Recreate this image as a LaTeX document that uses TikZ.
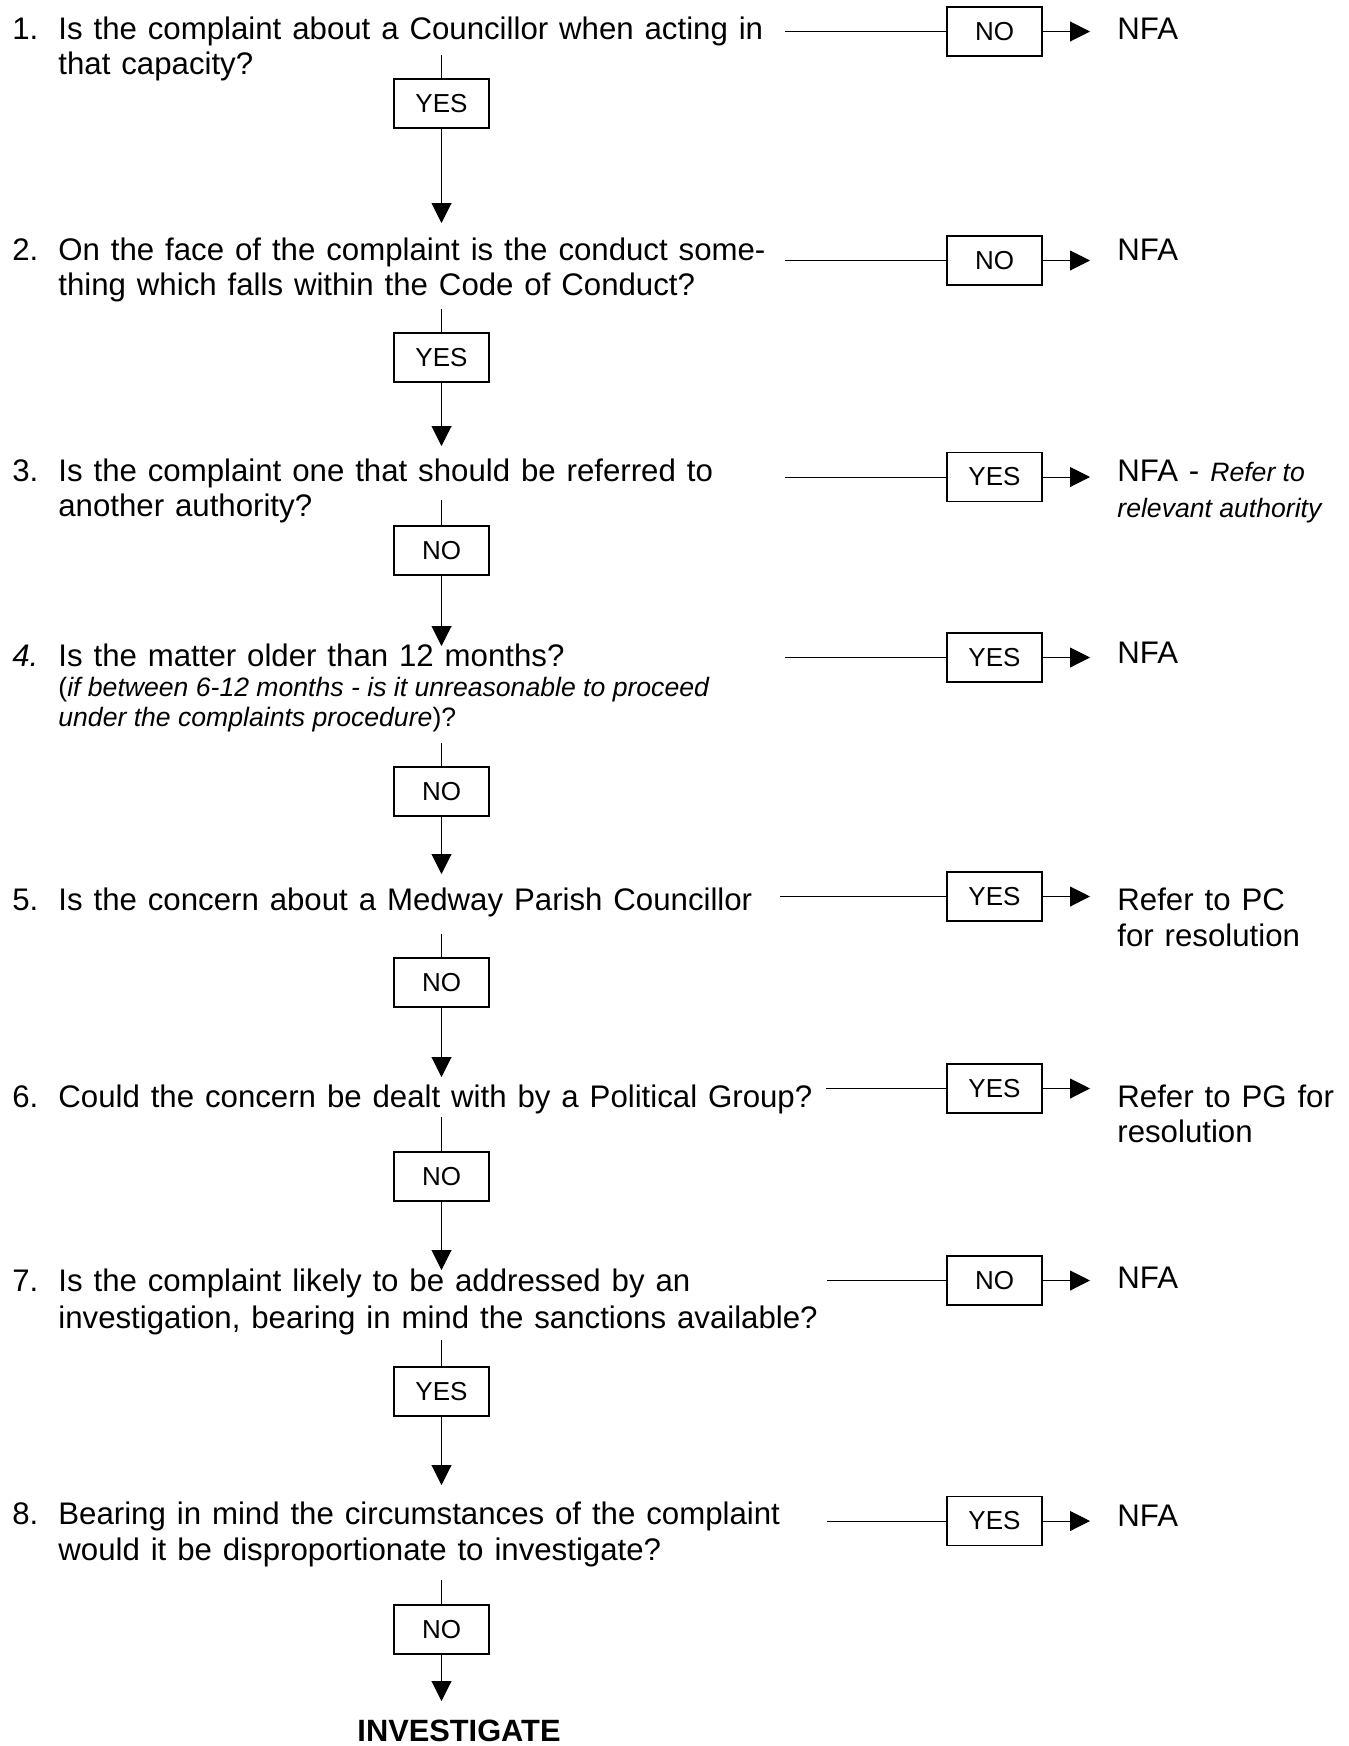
\documentclass[tikz,border=0pt]{standalone}
\usepackage{fontspec}
\setmainfont{Liberation Sans}
\usetikzlibrary{arrows.meta}
\newcommand\myqfont{\fontsize{15.6}{17.5}\selectfont\spaceskip 0.35em plus 0.1em\relax}
\newcommand\myifont{\fontsize{13.3}{15}\selectfont\itshape\spaceskip 0pt\relax}
\begin{document}
\begin{tikzpicture}[x=0.5pt,y=-0.5pt,
  qtext/.style={anchor=base west, inner sep=0, font=\myqfont},
  itext/.style={anchor=base west, inner sep=0, font=\fontsize{13.3}{15}\selectfont},
  ansbox/.style={draw, line width=0.6pt, minimum width=47.5pt, minimum height=24.5pt, inner sep=0, font=\fontsize{13}{15}\selectfont},
  conn/.style={line width=0.5pt},
  arr/.style={line width=0.5pt, -{Triangle[length=10pt,width=10pt]}},
  endtext/.style={anchor=base, inner sep=0, font=\fontsize{15.4}{18}\selectfont\bfseries}]
\useasboundingbox (0,0) rectangle (1349,1746);

% ---------- Question 1
\node[qtext] (n1) at (12,39) {1.};
\node[qtext] (q1a) at (58,39) {Is the complaint about a Councillor when acting in};
\node[qtext] (q1b) at (58,74) {that capacity?};
\coordinate (h1) at (785,31.5);
\node[ansbox] (r1) at (994.5,31.5) {NO};
\coordinate (t1) at (1090,31.5);
\node[qtext] (o1) at (1117,39) {NFA};
\coordinate (v1) at (441.5,55);
\node[ansbox] (d1) at (441.5,103.5) {YES};
\coordinate (a1) at (441.5,223);

% ---------- Question 2
\node[qtext] (n2) at (12,260) {2.};
\node[qtext] (q2a) at (58,260) {On the face of the complaint is the conduct some-};
\node[qtext] (q2b) at (58,295) {thing which falls within the Code of Conduct?};
\coordinate (h2) at (785,260.5);
\node[ansbox] (r2) at (994.5,260.5) {NO};
\coordinate (t2) at (1090,260.5);
\node[qtext] (o2) at (1117,260) {NFA};
\coordinate (v2) at (441.5,309);
\node[ansbox] (d2) at (441.5,357.5) {YES};
\coordinate (a2) at (441.5,446);

% ---------- Question 3
\node[qtext] (n3) at (12,481) {3.};
\node[qtext] (q3a) at (58,481) {Is the complaint one that should be referred to};
\node[qtext] (q3b) at (58,516) {another authority?};
\coordinate (h3) at (785,477);
\node[ansbox] (r3) at (994.5,477) {YES};
\coordinate (t3) at (1090,477);
\node[qtext] (o3a) at (1117,481) {NFA - {\myifont Refer to}};
\node[itext] (o3b) at (1117,517) {\itshape relevant authority};
\coordinate (v3) at (441.5,500);
\node[ansbox] (d3) at (441.5,550.5) {NO};
\coordinate (a3) at (441.5,646);

% ---------- Question 4
\node[qtext] (n4) at (12,666) {\itshape 4.};
\node[qtext] (q4a) at (58,666) {Is the matter older than 12 months?};
\node[itext] (q4b) at (58,696) {(\textit{if between 6-12 months - is it unreasonable to proceed}};
\node[itext] (q4c) at (58,726) {\textit{under the complaints procedure})?};
\coordinate (h4) at (785,657.5);
\node[ansbox] (r4) at (994.5,657.5) {YES};
\coordinate (t4) at (1090,657.5);
\node[qtext] (o4) at (1117,663) {NFA};
\coordinate (v4) at (441.5,743);
\node[ansbox] (d4) at (441.5,791.5) {NO};
\coordinate (a4) at (441.5,874);

% ---------- Question 5
\node[qtext] (n5) at (12,910) {5.};
\node[qtext] (q5a) at (58,910) {Is the concern about a Medway Parish Councillor};
\coordinate (h5) at (780,896.5);
\node[ansbox] (r5) at (994.5,896.5) {YES};
\coordinate (t5) at (1090,896.5);
\node[qtext] (o5a) at (1117,910) {Refer to PC};
\node[qtext] (o5b) at (1117,946) {for resolution};
\coordinate (v5) at (441.5,934);
\node[ansbox] (d5) at (441.5,982.5) {NO};
\coordinate (a5) at (441.5,1077);

% ---------- Question 6
\node[qtext] (n6) at (12,1107) {6.};
\node[qtext] (q6a) at (58,1107) {Could the concern be dealt with by a Political Group?};
\coordinate (h6) at (826,1088.5);
\node[ansbox] (r6) at (994.5,1088.5) {YES};
\coordinate (t6) at (1090,1088.5);
\node[qtext] (o6a) at (1117,1107) {Refer to PG for};
\node[qtext] (o6b) at (1117,1142) {resolution};
\coordinate (v6) at (441.5,1117);
\node[ansbox] (d6) at (441.5,1176.5) {NO};
\coordinate (a6) at (441.5,1270);

% ---------- Question 7
\node[qtext] (n7) at (12,1291) {7.};
\node[qtext] (q7a) at (58,1291) {Is the complaint likely to be addressed by an};
\node[qtext] (q7b) at (58,1328) {investigation, bearing in mind the sanctions available?};
\coordinate (h7) at (827,1280.5);
\node[ansbox] (r7) at (994.5,1280.5) {NO};
\coordinate (t7) at (1090,1280.5);
\node[qtext] (o7) at (1117,1288) {NFA};
\coordinate (v7) at (441.5,1340);
\node[ansbox] (d7) at (441.5,1391.5) {YES};
\coordinate (a7) at (441.5,1485);

% ---------- Question 8
\node[qtext] (n8) at (12,1524) {8.};
\node[qtext] (q8a) at (58,1524) {Bearing in mind the circumstances of the complaint};
\node[qtext] (q8b) at (58,1560) {would it be disproportionate to investigate?};
\coordinate (h8) at (827,1521);
\node[ansbox] (r8) at (994.5,1521) {YES};
\coordinate (t8) at (1090,1521);
\node[qtext] (o8) at (1117,1526) {NFA};
\coordinate (v8) at (441.5,1580);
\node[ansbox] (d8) at (441.5,1629.5) {NO};
\coordinate (a8) at (441.5,1701);
\node[endtext] (inv) at (459,1741) {INVESTIGATE};

% ---------- connectors
\foreach \i in {1,...,8}{
  \draw[conn] (h\i) -- (r\i.west);
  \draw[arr] (r\i.east) -- (t\i);
  \draw[conn] (v\i) -- (d\i.north);
  \draw[arr] (d\i.south) -- (a\i);
}
\end{tikzpicture}
\end{document}
